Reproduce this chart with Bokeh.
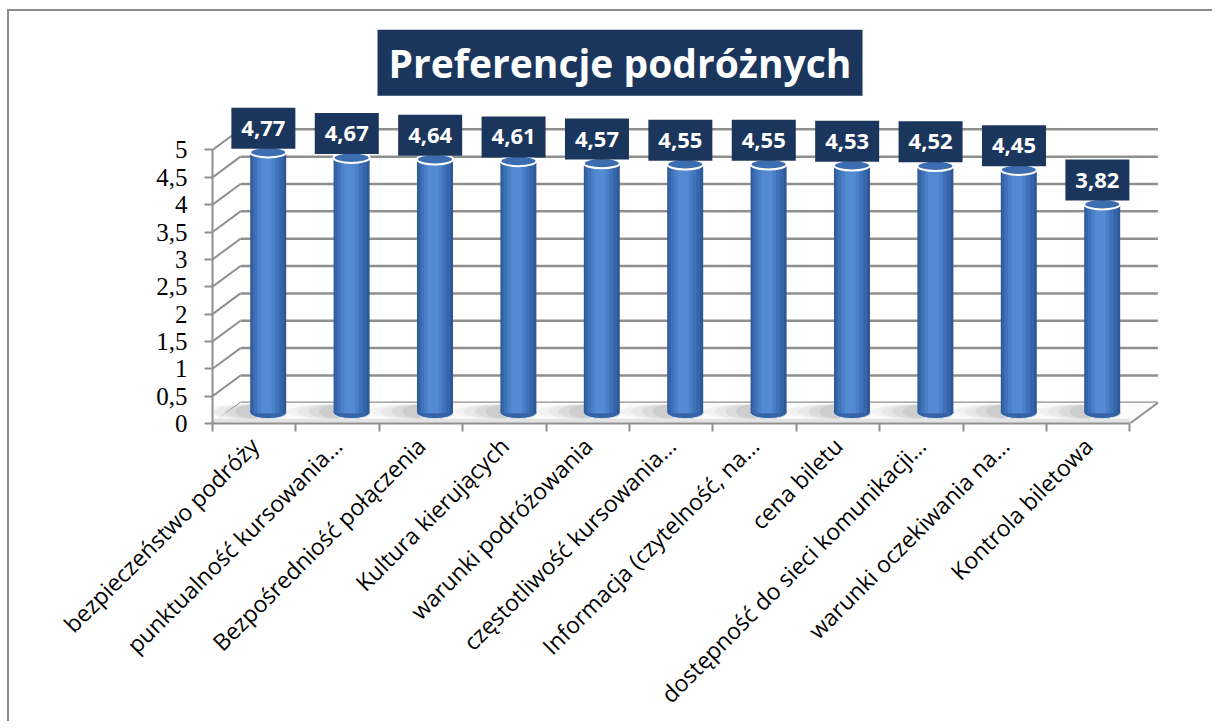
from bokeh.plotting import figure
from bokeh.models import Range1d, FixedTicker, CustomJSTickFormatter
from bokeh.core.properties import value
from bokeh.embed import file_html
from bokeh.resources import INLINE
import math

# ---- data ----
categories = [
    "bezpieczeństwo podróży",
    "punktualność kursowania…",
    "Bezpośredniość połączenia",
    "Kultura kierujących",
    "warunki podróżowania",
    "częstotliwość kursowania…",
    "Informacja (czytelność, na…",
    "cena biletu",
    "dostępność do sieci komunikacji…",
    "warunki oczekiwania na…",
    "Kontrola biletowa",
]
scores = [4.77, 4.67, 4.64, 4.61, 4.57, 4.55, 4.55, 4.53, 4.52, 4.45, 3.82]
score_labels = ["4,77", "4,67", "4,64", "4,61", "4,57", "4,55", "4,55", "4,53", "4,52", "4,45", "3,82"]
y_ticks = [0, 0.5, 1, 1.5, 2, 2.5, 3, 3.5, 4, 4.5, 5]
chart_title = "Preferencje podróżnych"

# ---- geometry / style ----
W, H = 1205, 712
OX, OY = 9, 11          # where the canvas starts (left/top border + margin)
ML, MR, MT, MB = 212 - OX, 14, 0, H - (429 - OY)
frame_w = W - ML - MR
frame_h = H - MT - MB
cat_px = 83.4
unit_px = 55.5
DX = 28 / cat_px       # depth offset (x) of back wall
DY = 21 / unit_px      # depth offset (y) of back wall
NAVY = "#1B365D"
GRID = "#8f8f8f"

n = len(categories)
xs = list(range(n))

p = figure(width=W, height=H, output_backend="svg", toolbar_location=None,
           x_range=Range1d(-0.5, -0.5 + frame_w / cat_px),
           y_range=Range1d(0, frame_h / unit_px),
           min_border_left=ML, min_border_right=MR, min_border_top=MT, min_border_bottom=MB)
p.outline_line_color = None
p.xgrid.visible = False
p.ygrid.visible = False
p.background_fill_color = "white"
p.border_fill_color = "white"
p.styles = {"border-left": "2px solid #8c8c8c", "border-top": "2px solid #8c8c8c",
            "margin-left": "7px", "margin-top": "9px"}

# ---- back wall gridlines + side wall diagonals ----
gx0 = [-0.5 + DX] * len(y_ticks)
gx1 = [n - 0.5 + DX] * len(y_ticks)
gy = [t + DY for t in y_ticks]
p.segment(x0=gx0, y0=gy, x1=gx1, y1=gy, line_color=GRID, line_width=2.5)
p.segment(x0=[-0.5] * len(y_ticks), y0=y_ticks, x1=gx0, y1=gy, line_color=GRID, line_width=2)

# ---- floor ----
p.patch(x=[-0.5, n - 0.5, n - 0.5 + DX, -0.5 + DX],
        y=[0.03, 0.03, DY, DY], fill_color="#fbfbfb", line_color=None)
p.segment(x0=[n - 0.5], y0=[0], x1=[n - 0.5 + DX], y1=[DY], line_color=GRID, line_width=2)
p.segment(x0=[-0.5], y0=[0.05], x1=[n - 0.5], y1=[0.05], line_color="#e3e3e3", line_width=4)

# ---- shadows on the floor ----
bx = [x + DX / 2 for x in xs]
by = [DY / 2] * n
for w, a, sh in [(1.0, 0.06, -0.28), (0.8, 0.08, -0.25), (0.6, 0.10, -0.22), (0.42, 0.12, -0.18)]:
    p.ellipse(x=[x + sh for x in bx], y=[b + 0.03 for b in by], width=w, height=0.26,
              fill_color="#6e6e6e", fill_alpha=a, line_color=None)

# ---- cylinders ----
BW = 36 / cat_px
tops = [s + DY / 2 for s in scores]
p.ellipse(x=bx, y=by, width=BW, height=0.2, fill_color="#3564A6", line_color="#d8e2ef", line_width=1)
layers = [(1.0, "#2D5997", 0.0), (0.88, "#3666A9", -0.02), (0.70, "#3F72B9", -0.04),
          (0.50, "#4A80C8", -0.05), (0.30, "#548AD1", -0.05)]
for frac, col, shift in layers:
    p.vbar(x=[b + shift * BW for b in bx], width=BW * frac, top=tops, bottom=by,
           fill_color=col, line_color=None)
p.ellipse(x=bx, y=tops, width=BW, height=0.19, fill_color="#3D6DB1", line_color="white", line_width=2)

# ---- value labels ----
lx = [x + 0.11 for x in xs]
ly = [t + 0.44 for t in tops]
p.rect(x=lx, y=ly, width=64, height=41, width_units="screen", height_units="screen",
       fill_color=NAVY, line_color=None)
p.text(x=lx, y=ly, text=score_labels, text_align="center", text_baseline="middle",
       text_color="white", text_font=value("Open Sans"), text_font_style="bold",
       text_font_size="22px")

# ---- title ----
tx = -0.5 + (619.5 - 212) / cat_px
ty = (429 - 63) / unit_px
p.rect(x=[tx], y=[ty], width=485, height=66, width_units="screen", height_units="screen",
       fill_color=NAVY, line_color=None)
p.text(x=[tx], y=[ty], text=[chart_title], text_align="center", text_baseline="middle",
       text_color="white", text_font=value("Open Sans"), text_font_style="bold",
       text_font_size="39px")

# ---- axes ----
ya = p.yaxis[0]
ya.bounds = (0, 5)
ya.ticker = FixedTicker(ticks=y_ticks)
ya.formatter = CustomJSTickFormatter(code="return tick.toString().replace('.', ',');")
ya.axis_line_color = GRID
ya.axis_line_width = 2
ya.major_tick_line_color = GRID
ya.major_tick_line_width = 2
ya.major_tick_out = 8
ya.major_tick_in = 0
ya.minor_tick_line_color = None
ya.major_label_standoff = 17
ya.major_label_text_font = "Liberation Serif"
ya.major_label_text_font_size = "25px"
ya.major_label_text_color = "black"

xa = p.xaxis[0]
xa.bounds = (-0.5, n - 0.5)
xa.ticker = FixedTicker(ticks=xs, minor_ticks=[x - 0.5 for x in range(n + 1)])
xa.major_label_overrides = {i: c for i, c in enumerate(categories)}
xa.major_label_orientation = math.pi / 4
xa.axis_line_color = GRID
xa.axis_line_width = 2
xa.major_tick_line_color = None
xa.major_tick_out = 0
xa.major_tick_in = 0
xa.minor_tick_line_color = GRID
xa.minor_tick_line_width = 2
xa.minor_tick_out = 8
xa.minor_tick_in = 0
xa.major_label_standoff = 10
xa.major_label_text_font = "Open Sans"
xa.major_label_text_font_size = "23px"
xa.major_label_text_color = "black"

open("out.html", "w").write(file_html(p, INLINE))
